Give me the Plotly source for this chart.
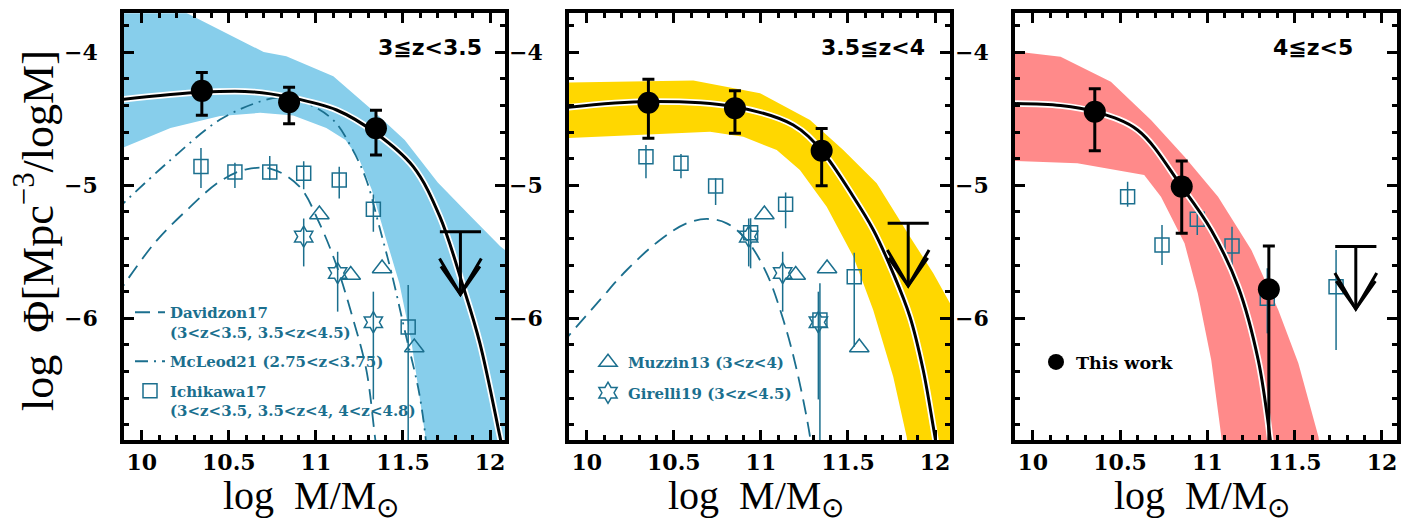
import plotly.graph_objects as go

TEAL = "#1B6F8E"
BLUE_BAND = "#87CEEB"
GOLD_BAND = "#FFD700"
RED_BAND = "#FF8A8A"

panel_labels = ["3≦z&lt;3.5", "3.5≦z&lt;4", "4≦z&lt;5"]
x_title = "log&nbsp; M/M<sub>⊙</sub>"
y_title = "log&nbsp; Φ[Mpc<sup>−3</sup>/logM]"

# ---------------- This work (points, errors, upper limits) ----------------
p1_tw_x = [10.345, 10.846, 11.345]
p1_tw_y = [-4.290, -4.376, -4.571]
p1_tw_up = [-4.153, -4.263, -4.436]
p1_tw_lo = [-4.474, -4.537, -4.772]
p1_ul_x = [11.83]
p1_ul_y = [-5.35]

p2_tw_x = [10.354, 10.851, 11.349]
p2_tw_y = [-4.379, -4.421, -4.740]
p2_tw_up = [-4.203, -4.289, -4.574]
p2_tw_lo = [-4.647, -4.609, -5.003]
p2_ul_x = [11.846]
p2_ul_y = [-5.286]

p3_tw_x = [10.355, 10.853, 11.352]
p3_tw_y = [-4.447, -5.010, -5.782]
p3_tw_up = [-4.274, -4.817, -5.456]
p3_tw_lo = [-4.740, -5.361, -7.500]
p3_ul_x = [11.85]
p3_ul_y = [-5.46]

# ---------------- Best-fit curves ----------------
p1_fit_x = [9.85, 10.344, 10.641, 10.846, 11.119, 11.345, 11.559, 11.712, 11.846, 11.942, 12.057, 12.09]
p1_fit_y = [-4.36, -4.301, -4.298, -4.338, -4.434, -4.609, -4.86, -5.236, -5.762, -6.188, -6.89, -7.10]
p2_fit_x = [9.85, 10.354, 10.85, 11.186, 11.349, 11.531, 11.646, 11.76, 11.856, 11.932, 11.99, 12.02]
p2_fit_y = [-4.42, -4.37, -4.41, -4.547, -4.74, -5.086, -5.336, -5.662, -5.988, -6.389, -6.815, -7.05]
p3_fit_x = [9.85, 10.159, 10.355, 10.6, 10.853, 11.022, 11.176, 11.291, 11.358, 11.375]
p3_fit_y = [-4.385, -4.401, -4.447, -4.584, -5.01, -5.336, -5.762, -6.313, -6.89, -7.10]

# ---------------- Uncertainty bands ----------------
b1_up_x = [9.85, 10.26, 10.70, 10.83, 11.10, 11.32, 11.51, 11.70, 11.89, 12.06, 12.2, 12.2]
b1_up_y = [-3.50, -3.706, -3.998, -4.03, -4.18, -4.43, -4.66, -4.98, -5.235, -5.46, -5.60, -7.2]
b1_lo_x = [9.85, 10.165, 10.45, 10.68, 10.87, 11.06, 11.17, 11.25, 11.32, 11.40, 11.48, 11.55, 11.63, 11.66]
b1_lo_y = [-4.74, -4.57, -4.48, -4.455, -4.475, -4.57, -4.66, -4.81, -5.03, -5.39, -5.74, -6.19, -6.90, -7.2]

b2_up_x = [9.85, 10.612, 10.995, 11.282, 11.473, 11.665, 11.856, 11.99, 12.086, 12.2, 12.2]
b2_up_y = [-4.228, -4.213, -4.308, -4.509, -4.735, -4.985, -5.386, -5.662, -5.887, -6.10, -7.2]
b2_lo_x = [9.85, 10.23, 10.708, 10.899, 11.091, 11.224, 11.378, 11.531, 11.645, 11.76, 11.837, 11.87]
b2_lo_y = [-4.647, -4.622, -4.597, -4.635, -4.735, -4.885, -5.161, -5.537, -5.938, -6.439, -6.89, -7.2]

b3_up_x = [9.85, 10.159, 10.447, 10.677, 10.869, 11.061, 11.252, 11.406, 11.521, 11.636, 11.67]
b3_up_y = [-3.985, -4.033, -4.221, -4.509, -4.785, -5.086, -5.486, -5.938, -6.338, -6.89, -7.2]
b3_lo_x = [9.85, 10.255, 10.638, 10.734, 10.869, 10.945, 11.022, 11.08, 11.10]
b3_lo_y = [-4.815, -4.835, -4.922, -5.086, -5.436, -5.812, -6.313, -6.89, -7.2]

# ---------------- Literature ----------------
dav1_x = [9.85, 10.07, 10.26, 10.45, 10.60, 10.75, 10.906, 11.02, 11.115, 11.21, 11.29, 11.34, 11.36]
dav1_y = [-5.84, -5.44, -5.185, -4.97, -4.88, -4.88, -5.01, -5.285, -5.59, -5.99, -6.39, -6.90, -7.10]
dav2_x = [9.85, 10.076, 10.23, 10.421, 10.574, 10.689, 10.804, 10.918, 11.033, 11.129, 11.206, 11.282, 11.30]
dav2_y = [-6.20, -5.862, -5.637, -5.411, -5.286, -5.253, -5.286, -5.411, -5.662, -6.013, -6.389, -6.89, -7.10]
mcl_x = [9.85, 10.165, 10.45, 10.68, 10.79, 10.94, 11.10, 11.21, 11.29, 11.36, 11.44, 11.51, 11.59, 11.63, 11.64]
mcl_y = [-5.19, -4.81, -4.506, -4.37, -4.34, -4.38, -4.51, -4.73, -4.96, -5.29, -5.69, -6.09, -6.54, -6.90, -7.10]

ich1_x = [10.34, 10.535, 10.735, 10.93, 11.134, 11.33, 11.53]
ich1_y = [-4.858, -4.90, -4.90, -4.91, -4.96, -5.18, -6.065]
ich1_up = [-4.72, -4.83, -4.78, -4.82, -4.86, -5.07, -5.75]
ich1_lo = [-5.02, -5.02, -4.96, -5.03, -5.10, -5.35, -7.50]

ich2_x = [10.34, 10.541, 10.74, 10.941, 11.142, 11.339, 11.536]
ich2_y = [-4.785, -4.835, -5.005, -5.356, -5.143, -6.013, -5.687]
ich2_up = [-4.697, -4.765, -4.947, -5.248, -5.055, -5.737, -5.507]
ich2_lo = [-4.947, -4.947, -5.148, -5.624, -5.323, -7.50, -6.214]

ich3_x = [10.543, 10.74, 10.942, 11.141, 11.343, 11.737]
ich3_y = [-5.086, -5.449, -5.256, -5.456, -5.85, -5.762]
ich3_up = [-4.973, -5.298, -5.198, -5.311, -5.624, -5.486]
ich3_lo = [-5.161, -5.599, -5.373, -5.65, -6.113, -6.238]

muz_x = [11.02, 11.20, 11.38, 11.565]
muz_y = [-5.22, -5.675, -5.625, -6.22]

gir_x = [10.93, 11.125, 11.33]
gir_y = [-5.386, -5.66, -6.03]
gir_up = [-5.25, -5.50, -5.80]
gir_lo = [-5.61, -5.95, -6.61]

# ---------------- style / layout constants ----------------
PAGE_OFF = 8            # default body margin of the html page
FIG_W, FIG_H = 1410 - PAGE_OFF, 524 - PAGE_OFF
X_RANGE = [9.898, 12.086]
Y_RANGE = [-6.915, -3.707]
PANEL_PX = [(124, 505), (569, 950), (1015, 1397)]   # page pixels
Y_PX = (13.3, 440)                                   # page pixels (top, bottom)


def px_x(p):
    return (p - PAGE_OFF) / FIG_W


def px_y(p):
    return (FIG_H - (p - PAGE_OFF)) / FIG_H


X_DOMAINS = [[px_x(a), px_x(b)] for a, b in PANEL_PX]
Y_DOMAIN = [px_y(Y_PX[1]), px_y(Y_PX[0])]
ARROW_LEN = 0.47
BAR_HALF = 0.118

fig = go.Figure()


def errs(y, up, lo):
    return [u - v for u, v in zip(up, y)], [v - l for v, l in zip(y, lo)]


def band(n, ux, uy, lx, ly, color):
    fig.add_trace(go.Scatter(x=ux + lx[::-1], y=uy + ly[::-1], fill="toself", fillcolor=color,
                             mode="lines", line=dict(width=0, color=color), hoverinfo="skip",
                             showlegend=False, xaxis=f"x{n}", yaxis=f"y{n}"))


def lit_curve(n, x, y, dash, name=None, legend=None, group=None):
    fig.add_trace(go.Scatter(x=x, y=y, mode="lines", line=dict(color=TEAL, width=1.8, dash=dash, shape="spline"),
                             name=name, showlegend=name is not None, legend=legend, legendgroup=group,
                             xaxis=f"x{n}", yaxis=f"y{n}"))


def lit_points(n, x, y, symbol, size, up=None, lo=None, name=None, legend=None, group=None):
    kw = {}
    if up is not None:
        p, m = errs(y, up, lo)
        kw["error_y"] = dict(type="data", array=p, arrayminus=m, color=TEAL, thickness=1.5, width=0)
    fig.add_trace(go.Scatter(x=x, y=y, mode="markers",
                             marker=dict(symbol=symbol, size=size, color="rgba(255,255,255,0)",
                                         line=dict(color=TEAL, width=1.5)),
                             name=name, showlegend=name is not None, legend=legend, legendgroup=group,
                             xaxis=f"x{n}", yaxis=f"y{n}", **kw))


def fit_curve(n, x, y):
    fig.add_trace(go.Scatter(x=x, y=y, mode="lines", line=dict(color="white", width=6.5, shape="spline"),
                             showlegend=False, hoverinfo="skip", xaxis=f"x{n}", yaxis=f"y{n}"))
    fig.add_trace(go.Scatter(x=x, y=y, mode="lines", line=dict(color="black", width=3, shape="spline"),
                             showlegend=False, xaxis=f"x{n}", yaxis=f"y{n}"))


def this_work(n, x, y, up, lo, legend=None):
    p, m = errs(y, up, lo)
    fig.add_trace(go.Scatter(x=x, y=y, mode="markers", marker=dict(symbol="circle", size=22, color="black"),
                             error_y=dict(type="data", array=p, arrayminus=m, color="black", thickness=3, width=6),
                             name="This work", showlegend=legend is not None, legend=legend,
                             xaxis=f"x{n}", yaxis=f"y{n}"))


def upper_limit(n, ulx, uly):
    xs, ys = [], []
    for x0, y0 in zip(ulx, uly):
        tip = y0 - ARROW_LEN
        xs += [x0 - BAR_HALF, x0 + BAR_HALF, None, x0, x0, None,
               x0 - 0.12, x0, x0 + 0.12, None, x0 - 0.112, x0, x0 + 0.112, None]
        ys += [y0, y0, None, y0, tip, None,
               tip + 0.27, tip, tip + 0.27, None, tip + 0.21, tip, tip + 0.21, None]
    fig.add_trace(go.Scatter(x=xs, y=ys, mode="lines", line=dict(color="black", width=3),
                             showlegend=False, hoverinfo="skip", xaxis=f"x{n}", yaxis=f"y{n}"))


DAV_DASH = "15px,8px"
MCL_DASH = "13px,6px,2px,6px"

# Panel 1
band(1, b1_up_x, b1_up_y, b1_lo_x, b1_lo_y, BLUE_BAND)
lit_curve(1, dav1_x, dav1_y, DAV_DASH, "Davidzon17<br>(3&lt;z&lt;3.5, 3.5&lt;z&lt;4.5)", "legend", "dav")
lit_curve(1, mcl_x, mcl_y, MCL_DASH, "McLeod21 (2.75&lt;z&lt;3.75)", "legend", "mcl")
lit_points(1, ich1_x, ich1_y, "square", 14, ich1_up, ich1_lo,
           "Ichikawa17<br>(3&lt;z&lt;3.5, 3.5&lt;z&lt;4, 4&lt;z&lt;4.8)", "legend", "ich")
lit_points(1, muz_x, muz_y, "triangle-up", 17)
lit_points(1, gir_x, gir_y, "hexagram", 16, gir_up, gir_lo)
fit_curve(1, p1_fit_x, p1_fit_y)
this_work(1, p1_tw_x, p1_tw_y, p1_tw_up, p1_tw_lo)
upper_limit(1, p1_ul_x, p1_ul_y)

# Panel 2
band(2, b2_up_x, b2_up_y, b2_lo_x, b2_lo_y, GOLD_BAND)
lit_curve(2, dav2_x, dav2_y, DAV_DASH)
lit_points(2, ich2_x, ich2_y, "square", 14, ich2_up, ich2_lo)
lit_points(2, muz_x, muz_y, "triangle-up", 17, name="Muzzin13 (3&lt;z&lt;4)", legend="legend2", group="muz")
lit_points(2, gir_x, gir_y, "hexagram", 16, gir_up, gir_lo, name="Girelli19 (3&lt;z&lt;4.5)",
           legend="legend2", group="gir")
fit_curve(2, p2_fit_x, p2_fit_y)
this_work(2, p2_tw_x, p2_tw_y, p2_tw_up, p2_tw_lo)
upper_limit(2, p2_ul_x, p2_ul_y)

# Panel 3
band(3, b3_up_x, b3_up_y, b3_lo_x, b3_lo_y, RED_BAND)
lit_points(3, ich3_x, ich3_y, "square", 14, ich3_up, ich3_lo)
fit_curve(3, p3_fit_x, p3_fit_y)
this_work(3, p3_tw_x, p3_tw_y, p3_tw_up, p3_tw_lo, legend="legend3")
upper_limit(3, p3_ul_x, p3_ul_y)

TICKFONT = dict(family="DejaVu Serif", size=22, color="black", weight="bold")
TITLEFONT = dict(family="Liberation Serif", size=40, color="black")


def axis_common():
    return dict(showline=True, linewidth=3.5, linecolor="black", mirror="ticks", ticks="inside",
                ticklen=10, tickwidth=3, tickcolor="black", showgrid=False, zeroline=False,
                tickfont=TICKFONT, automargin=False)


layout = dict(width=FIG_W, height=FIG_H, margin=dict(l=0, r=0, t=0, b=0),
              paper_bgcolor="white", plot_bgcolor="white", showlegend=True)

annotations = []
label_right = [0.945, 0.94, 0.89]
for i in range(3):
    n = "" if i == 0 else str(i + 1)
    xa = axis_common()
    xa.update(domain=X_DOMAINS[i], range=X_RANGE, tick0=10, dtick=0.5, anchor=f"y{n}",
              ticklabelstandoff=0,
              minor=dict(ticks="inside", ticklen=5, tickwidth=2.5, tickcolor="black", dtick=0.1, tick0=10))
    ya = axis_common()
    ya.update(domain=Y_DOMAIN, range=Y_RANGE, tick0=-4, dtick=1, anchor=f"x{n}",
              ticklabelstandoff=18,
              minor=dict(ticks="inside", ticklen=5, tickwidth=2.5, tickcolor="black", dtick=0.2, tick0=-4))
    layout[f"xaxis{n}"] = xa
    layout[f"yaxis{n}"] = ya
    annotations.append(dict(text=f"<b>{panel_labels[i]}</b>", xref=f"x{n} domain", yref=f"y{n} domain",
                            x=label_right[i], y=0.919, xanchor="right", yanchor="middle", showarrow=False,
                            font=dict(family="DejaVu Sans", size=22, color="black")))
    # x-axis title (placed as annotation so it can sit close to the page edge)
    annotations.append(dict(text=x_title, xref=f"x{n} domain", yref="paper", x=0.49, y=px_y(498),
                            xanchor="center", yanchor="middle", showarrow=False, font=TITLEFONT))

annotations.append(dict(text=y_title, xref="paper", yref="y domain", x=px_x(35), y=0.49,
                        xanchor="center", yanchor="middle", textangle=-90, showarrow=False,
                        font=dict(TITLEFONT, size=44)))

layout["annotations"] = annotations
LEGFONT = dict(family="DejaVu Serif", size=15, color=TEAL, weight="bold")
layout["legend"] = dict(x=px_x(130), y=px_y(296), xanchor="left", yanchor="top", traceorder="grouped",
                        bgcolor="rgba(0,0,0,0)", font=LEGFONT, valign="top", tracegroupgap=7)
layout["legend2"] = dict(x=px_x(588), y=px_y(346), xanchor="left", yanchor="top", traceorder="grouped",
                         bgcolor="rgba(0,0,0,0)", font=LEGFONT, valign="middle", tracegroupgap=8)
layout["legend3"] = dict(x=px_x(1036), y=px_y(344), xanchor="left", yanchor="top",
                         bgcolor="rgba(0,0,0,0)", font=dict(LEGFONT, color="black", size=17.5), valign="middle")

fig.update_layout(**layout)
fig.write_html("out.html")
